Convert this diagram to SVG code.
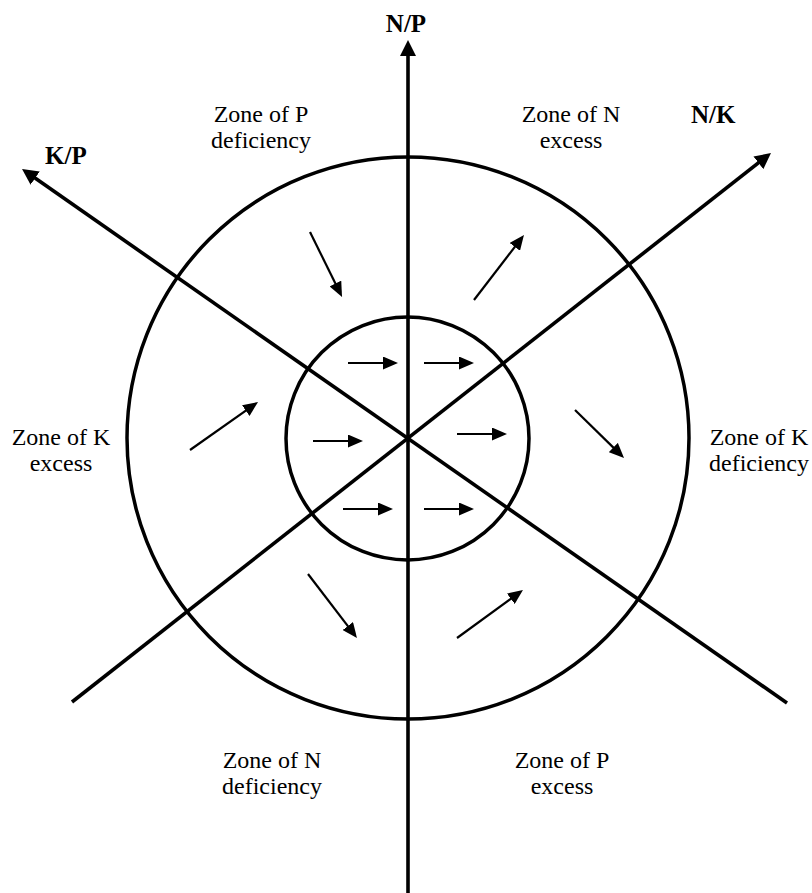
<svg xmlns="http://www.w3.org/2000/svg" width="812" height="893" viewBox="0 0 812 893">
<style>
.ring{fill:none;stroke:#000;stroke-width:3.5}
.axis{fill:none;stroke:#000;stroke-width:3.6}
.small{fill:none;stroke:#000;stroke-width:2.2}
.lbl{font-family:"Liberation Serif","Times New Roman",serif;font-size:24px;fill:#000;text-anchor:middle}
.ax{font-family:"Liberation Serif","Times New Roman",serif;font-size:25px;font-weight:bold;fill:#000}
</style>
<defs>
<marker id="bigHead" markerUnits="userSpaceOnUse" markerWidth="16" markerHeight="16" refX="8" refY="8" orient="auto" viewBox="0 0 16 16">
<path d="M0,0 L16,8 L0,16 z" fill="#000"/>
</marker>
<marker id="smallHead" markerUnits="userSpaceOnUse" markerWidth="15" markerHeight="13" refX="7" refY="6.5" orient="auto" viewBox="0 0 15 13">
<path d="M0,0 L15,6.5 L0,13 z" fill="#000"/>
</marker>
</defs>
<g id="rings">
<circle id="outer-circle" class="ring" cx="408" cy="438" r="281"/>
<circle id="inner-circle" class="ring" cx="407.5" cy="438.5" r="121.5"/>
</g>
<g id="connectors">
<line id="axis-NP" class="axis" x1="408" y1="893" x2="408" y2="48" marker-end="url(#bigHead)"/>
<line id="axis-KP" class="axis" x1="787" y1="703" x2="28.6" y2="173.6" marker-end="url(#bigHead)"/>
<line id="axis-NK" class="axis" x1="72" y1="702" x2="764.7" y2="157.9" marker-end="url(#bigHead)"/>
<line class="small" x1="348" y1="363" x2="390" y2="363" marker-end="url(#smallHead)"/>
<line class="small" x1="424" y1="363" x2="466" y2="363" marker-end="url(#smallHead)"/>
<line class="small" x1="313" y1="441" x2="355" y2="441" marker-end="url(#smallHead)"/>
<line class="small" x1="457" y1="434" x2="499" y2="434" marker-end="url(#smallHead)"/>
<line class="small" x1="343" y1="509" x2="385" y2="509" marker-end="url(#smallHead)"/>
<line class="small" x1="424" y1="509" x2="466" y2="509" marker-end="url(#smallHead)"/>
<line class="small" x1="310" y1="232" x2="338.5" y2="289.8" marker-end="url(#smallHead)"/>
<line class="small" x1="474" y1="300" x2="519.1" y2="241.3" marker-end="url(#smallHead)"/>
<line class="small" x1="190" y1="450" x2="251.5" y2="406.6" marker-end="url(#smallHead)"/>
<line class="small" x1="575" y1="410" x2="618.3" y2="452.4" marker-end="url(#smallHead)"/>
<line class="small" x1="308" y1="574" x2="352.1" y2="631.6" marker-end="url(#smallHead)"/>
<line class="small" x1="457" y1="638" x2="516.5" y2="594.7" marker-end="url(#smallHead)"/>
</g>
<g id="label-NP"><text class="ax" x="406" y="32" text-anchor="middle">N/P</text></g>
<g id="label-KP"><text class="ax" x="45" y="164">K/P</text></g>
<g id="label-NK"><text class="ax" x="691" y="123">N/K</text></g>
<g id="zone-P-deficiency"><text class="lbl" x="261" y="122">Zone of P</text><text class="lbl" x="261" y="148">deficiency</text></g>
<g id="zone-N-excess"><text class="lbl" x="571" y="122">Zone of N</text><text class="lbl" x="571" y="148">excess</text></g>
<g id="zone-K-excess"><text class="lbl" x="61" y="445">Zone of K</text><text class="lbl" x="61" y="471">excess</text></g>
<g id="zone-K-deficiency"><text class="lbl" x="759" y="445">Zone of K</text><text class="lbl" x="759" y="471">deficiency</text></g>
<g id="zone-N-deficiency"><text class="lbl" x="272" y="768">Zone of N</text><text class="lbl" x="272" y="794">deficiency</text></g>
<g id="zone-P-excess"><text class="lbl" x="562" y="768">Zone of P</text><text class="lbl" x="562" y="794">excess</text></g>
</svg>
